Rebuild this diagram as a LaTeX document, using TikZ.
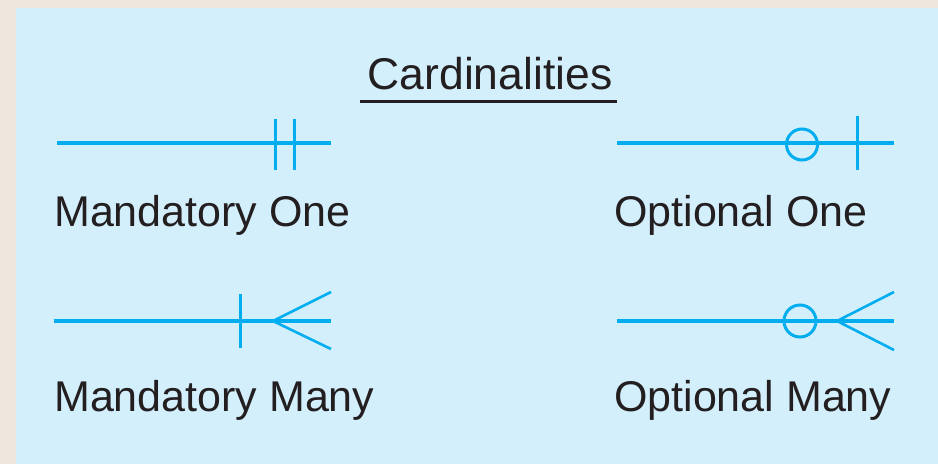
\documentclass[tikz,border=0pt]{standalone}
\usepackage{fontspec}
\setmainfont{Liberation Sans}
\definecolor{cardblue}{HTML}{00AEEF}
\definecolor{panelblue}{HTML}{D4EFFC}
\definecolor{pagebeige}{HTML}{EEE6DD}
\definecolor{inkdark}{HTML}{231F20}

\begin{document}
\begin{tikzpicture}[x=1pt, y=-1pt,
    lbl/.style={anchor=base west, inner sep=0pt, text=inkdark,
        font=\fontsize{43}{50}\selectfont},
    relline/.style={draw=cardblue, line width=3.6pt},
    barline/.style={draw=cardblue, line width=3pt},
    crowline/.style={draw=cardblue, line width=2.6pt},
    ring/.style={circle, draw=cardblue, line width=3pt, minimum size=#1, inner sep=0pt}]
    % page and panel
    \fill[pagebeige] (0,0) rectangle (938,464);
    \fill[panelblue] (16,8) rectangle (938,464);
    \useasboundingbox (0,0) rectangle (938,464);

    % title
    \node[lbl, anchor=base, font=\fontsize{44.5}{50}\selectfont] (title) at (490,89) {Cardinalities};
    \coordinate (ulA) at (360,101.5);
    \coordinate (ulB) at (617,101.5);
    \draw[inkdark, line width=3pt] (ulA) -- (ulB);

    % mandatory one
    \coordinate (moA) at (57,143);
    \coordinate (moB) at (331,143);
    \draw[relline] (moA) -- (moB);
    \draw[barline] (275,119) -- (275,170);
    \draw[barline] (294,119) -- (294,170);
    \node[lbl] (mo) at (54,226) {Mandatory One};

    % optional one
    \coordinate (ooA) at (617,143);
    \coordinate (ooB) at (894,143);
    \draw[relline] (ooA) -- (ooB);
    \node[ring=31pt] (ooRing) at (802,144.5) {};
    \draw[barline] (857,116) -- (857,170);
    \node[lbl] (oo) at (614,226) {Optional One};

    % mandatory many
    \coordinate (mmA) at (54,321);
    \coordinate (mmB) at (331,321);
    \coordinate (mmFoot) at (273,321);
    \draw[relline] (mmA) -- (mmB);
    \draw[barline] (240,294) -- (240,348);
    \draw[crowline] (331,292) -- (mmFoot) -- (331,349);
    \node[lbl] (mm) at (54,411) {Mandatory Many};

    % optional many
    \coordinate (omA) at (617,321);
    \coordinate (omB) at (894,321);
    \coordinate (omFoot) at (837,321);
    \draw[relline] (omA) -- (omB);
    \node[ring=32pt] (omRing) at (800,321) {};
    \draw[crowline] (894,292) -- (omFoot) -- (894,350);
    \node[lbl] (om) at (614,411) {Optional Many};
\end{tikzpicture}
\end{document}
